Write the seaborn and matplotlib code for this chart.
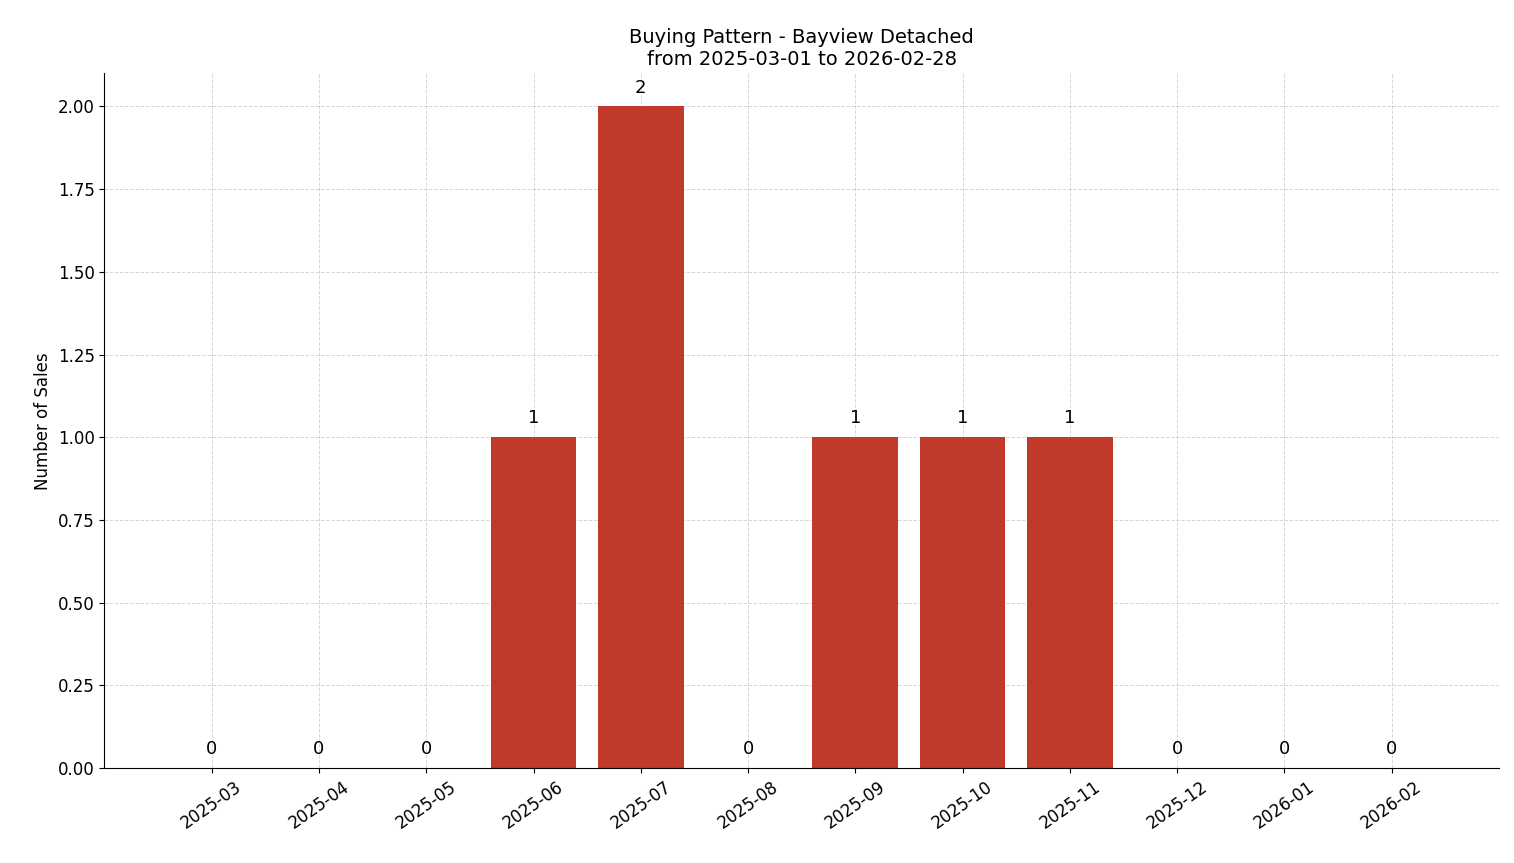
import matplotlib
matplotlib.use("Agg")
import matplotlib.pyplot as plt
import seaborn as sns
import pandas as pd

months = ["2025-03","2025-04","2025-05","2025-06","2025-07","2025-08",
          "2025-09","2025-10","2025-11","2025-12","2026-01","2026-02"]
sales = [0,0,0,1,2,0,1,1,1,0,0,0]

df = pd.DataFrame({"month": months, "sales": sales})
fig, ax = plt.subplots(figsize=(15.14, 8.63), dpi=100)
sns.barplot(data=df, x="month", y="sales", color="#c0392b", saturation=1, width=0.8, ax=ax)
ax.set_xlim(-1, 12)
ax.set_ylim(0, 2.1)
ax.grid(True, linestyle="--", color="#cccccc", alpha=0.8, linewidth=0.7)
ax.set_axisbelow(True)
for i, v in enumerate(sales):
    ax.text(i, v + 0.03, str(v), ha="center", va="bottom", fontsize=13)
ax.set_xlabel("")
ax.set_ylabel("Number of Sales", fontsize=12)
ax.set_title("Buying Pattern - Bayview Detached\nfrom 2025-03-01 to 2026-02-28", fontsize=14)
ax.spines["top"].set_visible(False)
ax.spines["right"].set_visible(False)
ax.set_yticks([0,0.25,0.5,0.75,1.0,1.25,1.5,1.75,2.0])
ax.yaxis.set_major_formatter(matplotlib.ticker.FormatStrFormatter("%.2f"))
plt.setp(ax.get_xticklabels(), rotation=35, fontsize=12)
plt.setp(ax.get_yticklabels(), fontsize=12)
fig.subplots_adjust(left=0.069, right=0.99, top=0.915, bottom=0.11)
fig.savefig("out.png", dpi=100)
